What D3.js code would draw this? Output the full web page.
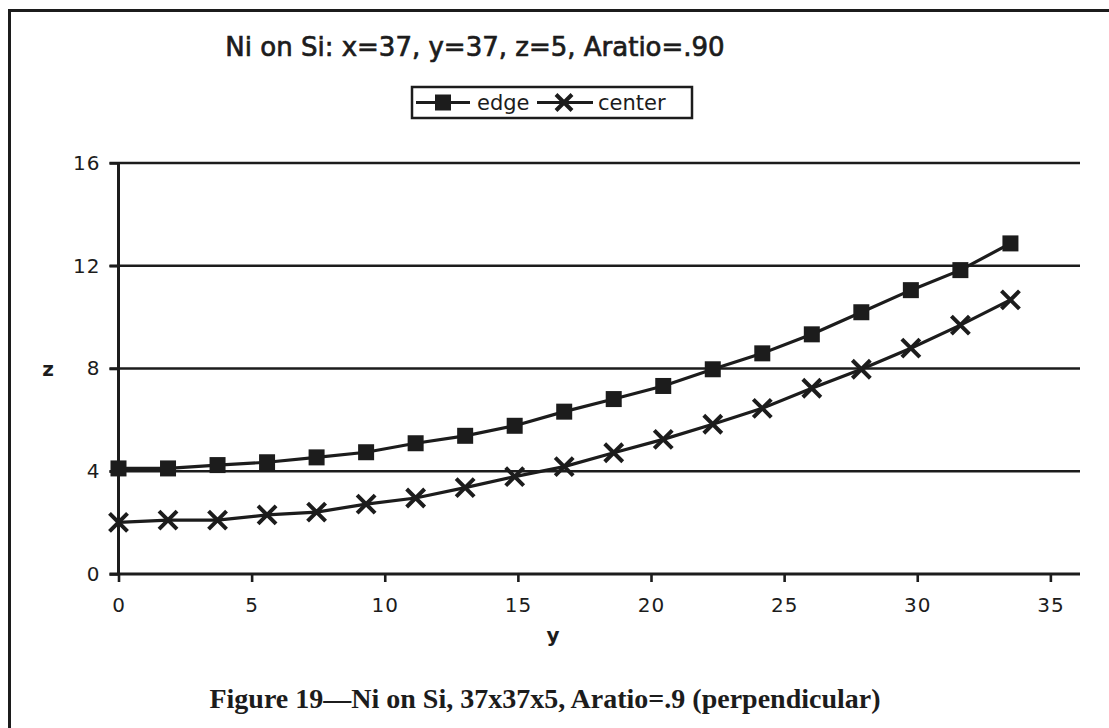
<!DOCTYPE html>
<html>
<head>
<meta charset="utf-8">
<script src="https://cdn.jsdelivr.net/npm/d3@7"></script>
<style>
  html, body { margin: 0; padding: 0; background: #fff; }
  svg { display: block; }
</style>
</head>
<body>
<svg id="chart" width="1109" height="728"></svg>
<script>
// Positions along y (lattice units) where z was sampled
const yPositions = [0, 1.86, 3.72, 5.58, 7.44, 9.3, 11.16, 13.02, 14.88, 16.74,
                    18.6, 20.46, 22.32, 24.18, 26.04, 27.9, 29.76, 31.62, 33.5];
// z at the edge of the island
const edgeValues = [4.11, 4.11, 4.24, 4.35, 4.54, 4.74, 5.09, 5.38, 5.77, 6.32,
                    6.81, 7.32, 7.97, 8.59, 9.33, 10.19, 11.05, 11.83, 12.87];
// z at the center of the island
const centerValues = [2.01, 2.1, 2.1, 2.3, 2.41, 2.72, 2.96, 3.36, 3.79, 4.18,
                      4.72, 5.24, 5.83, 6.45, 7.23, 7.97, 8.79, 9.69, 10.67];
const xTicks = [0, 5, 10, 15, 20, 25, 30, 35];
const yTicks = [0, 4, 8, 12, 16];
const seriesNames = ["edge", "center"];

const titleText = "Ni on Si: x=37, y=37, z=5, Aratio=.90";
const captionText = "Figure 19\u2014Ni on Si, 37x37x5, Aratio=.9 (perpendicular)";

const svg = d3.select("#chart");
const sans = "'DejaVu Sans', Verdana, sans-serif";
const ink = "#1c1c1c";

// frame around the figure
svg.append("path")
  .attr("d", "M9.5,728 L9.5,10.5 L1109,10.5")
  .attr("fill", "none").attr("stroke", ink).attr("stroke-width", 3);

const x = d3.scaleLinear().domain([0, 36]).range([118.5, 1077]);
const y = d3.scaleLinear().domain([0, 16]).range([574, 163]);

// horizontal gridlines
svg.append("g").selectAll("line").data(yTicks.filter(d => d > 0)).join("line")
  .attr("x1", x(0) - 9).attr("x2", 1080)
  .attr("y1", d => y(d)).attr("y2", d => y(d))
  .attr("stroke", ink).attr("stroke-width", 2.6);

// y axis
const yAxis = svg.append("g").attr("transform", `translate(${x(0)},0)`)
  .call(d3.axisLeft(y).tickValues(yTicks).tickSize(9).tickPadding(9).tickSizeOuter(0));
yAxis.select(".domain").attr("stroke", ink).attr("stroke-width", 3)
  .attr("d", `M0,${y(0)}V${y(16)}`);
yAxis.selectAll(".tick line").attr("stroke", ink).attr("stroke-width", 2.6);
yAxis.selectAll(".tick text").attr("font-family", sans).attr("font-size", 20)
  .attr("letter-spacing", 1).attr("fill", ink);

// x axis
const xAxis = svg.append("g").attr("transform", `translate(0,${y(0)})`)
  .call(d3.axisBottom(x).tickValues(xTicks).tickSize(8).tickPadding(16).tickSizeOuter(0));
xAxis.select(".domain").attr("stroke", ink).attr("stroke-width", 3)
  .attr("d", `M${x(0) - 9},0H1080`);
xAxis.selectAll(".tick line").attr("stroke", ink).attr("stroke-width", 2.6);
xAxis.selectAll(".tick text").attr("font-family", sans).attr("font-size", 20)
  .attr("letter-spacing", 1).attr("fill", ink);

const line = d3.line().x((d, i) => x(yPositions[i])).y(d => y(d));

// edge series with square markers
svg.append("path").datum(edgeValues).attr("d", line)
  .attr("fill", "none").attr("stroke", ink).attr("stroke-width", 3.2);
svg.append("g").selectAll("rect").data(edgeValues).join("rect")
  .attr("x", (d, i) => x(yPositions[i]) - 8).attr("y", d => y(d) - 8)
  .attr("width", 16).attr("height", 16).attr("fill", ink);

// center series with cross markers
svg.append("path").datum(centerValues).attr("d", line)
  .attr("fill", "none").attr("stroke", ink).attr("stroke-width", 3.2);
const cross = (cx, cy, r) => `M${cx - r},${cy - r}L${cx + r},${cy + r}M${cx - r},${cy + r}L${cx + r},${cy - r}`;
svg.append("g").selectAll("path").data(centerValues).join("path")
  .attr("d", (d, i) => cross(x(yPositions[i]), y(d), 9))
  .attr("stroke", ink).attr("stroke-width", 4).attr("fill", "none");

// title
svg.append("text").attr("x", 475).attr("y", 56).attr("text-anchor", "middle")
  .attr("font-family", sans).attr("font-size", 26).attr("fill", ink)
  .attr("stroke", ink).attr("stroke-width", 0.7).text(titleText);

// legend
const lg = svg.append("g");
lg.append("rect").attr("x", 412).attr("y", 87).attr("width", 280).attr("height", 31)
  .attr("fill", "#fff").attr("stroke", ink).attr("stroke-width", 2.5);
const ly = 102.5;
lg.append("line").attr("x1", 416).attr("x2", 470).attr("y1", ly).attr("y2", ly)
  .attr("stroke", ink).attr("stroke-width", 3);
lg.append("rect").attr("x", 435).attr("y", ly - 8).attr("width", 16).attr("height", 16).attr("fill", ink);
lg.append("text").attr("x", 477).attr("y", ly + 7).attr("font-family", sans)
  .attr("font-size", 21).attr("fill", ink).text(seriesNames[0]);
lg.append("line").attr("x1", 537).attr("x2", 593).attr("y1", ly).attr("y2", ly)
  .attr("stroke", ink).attr("stroke-width", 3);
lg.append("path").attr("d", cross(564, ly, 8)).attr("stroke", ink).attr("stroke-width", 4);
lg.append("text").attr("x", 598).attr("y", ly + 7).attr("font-family", sans)
  .attr("font-size", 21).attr("fill", ink).text(seriesNames[1]);

// axis titles
svg.append("text").attr("x", 48).attr("y", 376).attr("text-anchor", "middle")
  .attr("font-family", sans).attr("font-size", 20).attr("font-weight", "bold")
  .attr("fill", ink).text("z");
svg.append("text").attr("x", 553).attr("y", 642).attr("text-anchor", "middle")
  .attr("font-family", sans).attr("font-size", 20).attr("font-weight", "bold")
  .attr("fill", ink).text("y");

// figure caption
svg.append("text").attr("x", 545).attr("y", 708).attr("text-anchor", "middle")
  .attr("font-family", "'Liberation Serif', 'Times New Roman', serif")
  .attr("font-size", 28).attr("font-weight", "bold").attr("fill", ink).text(captionText);
</script>
</body>
</html>
